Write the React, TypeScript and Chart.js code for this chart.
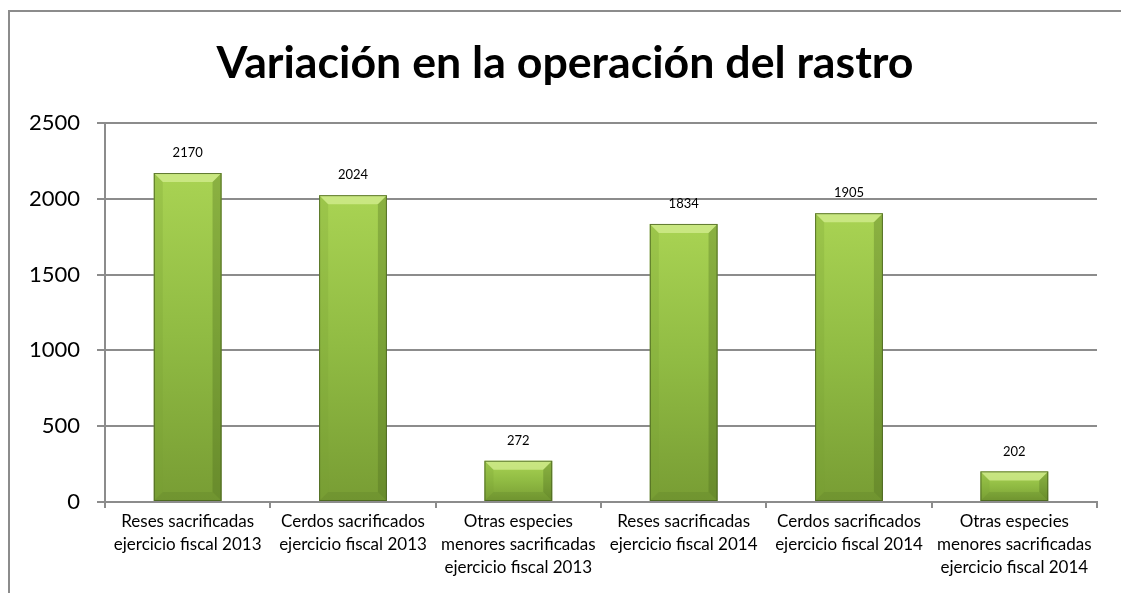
import React, { useEffect, useRef } from "react";
import { Chart, registerables } from "chart.js";

Chart.register(...registerables);

const TITLE = "Variación en la operación del rastro";
const CATEGORIES: string[][] = [
  ["Reses sacrificadas", "ejercicio fiscal 2013"],
  ["Cerdos sacrificados", "ejercicio fiscal 2013"],
  ["Otras especies", "menores sacrificadas", "ejercicio fiscal 2013"],
  ["Reses sacrificadas", "ejercicio fiscal 2014"],
  ["Cerdos sacrificados", "ejercicio fiscal 2014"],
  ["Otras especies", "menores sacrificadas", "ejercicio fiscal 2014"],
];
const VALUES: number[] = [2170, 2024, 272, 1834, 1905, 202];
const Y_MIN = 0;
const Y_MAX = 2500;
const Y_STEP = 500;

const FONT = "Lato, 'Open Sans', 'Liberation Sans', sans-serif";

const titlePlugin = {
  id: "customTitle",
  afterDraw(chart: any) {
    const ctx = chart.ctx;
    ctx.save();
    ctx.fillStyle = "#000";
    ctx.font = "bold 44.7px " + FONT;
    ctx.textAlign = "center";
    ctx.textBaseline = "alphabetic";
    ctx.fillText(TITLE, 565, 78);
    ctx.restore();
  },
};

const bevelPlugin = {
  id: "bevelBars",
  afterDatasetsDraw(chart: any) {
    const ctx = chart.ctx;
    const meta = chart.getDatasetMeta(0);
    meta.data.forEach((bar: any, i: number) => {
      const { x, y, base, width } = bar.getProps(["x", "y", "base", "width"], true);
      const l = x - width / 2;
      const r = x + width / 2;
      const t = y;
      const b = base;
      const h = b - t;
      const bev = Math.min(9, h / 3);
      ctx.save();
      const g = ctx.createLinearGradient(0, t, 0, b);
      g.addColorStop(0, "#a9d353");
      g.addColorStop(0.5, "#90bb43");
      g.addColorStop(1, "#789d34");
      ctx.fillStyle = g;
      ctx.fillRect(l, t, width, h);
      ctx.beginPath();
      ctx.moveTo(l, t);
      ctx.lineTo(r, t);
      ctx.lineTo(r - bev, t + bev);
      ctx.lineTo(l + bev, t + bev);
      ctx.closePath();
      ctx.fillStyle = "rgba(215,240,150,0.7)";
      ctx.fill();
      ctx.beginPath();
      ctx.moveTo(l, t);
      ctx.lineTo(l + bev, t + bev);
      ctx.lineTo(l + bev, b - bev);
      ctx.lineTo(l, b);
      ctx.closePath();
      ctx.fillStyle = "rgba(120,160,50,0.25)";
      ctx.fill();
      ctx.beginPath();
      ctx.moveTo(r, t);
      ctx.lineTo(r - bev, t + bev);
      ctx.lineTo(r - bev, b - bev);
      ctx.lineTo(r, b);
      ctx.closePath();
      ctx.fillStyle = "rgba(70,100,25,0.3)";
      ctx.fill();
      ctx.beginPath();
      ctx.moveTo(l, b);
      ctx.lineTo(l + bev, b - bev);
      ctx.lineTo(r - bev, b - bev);
      ctx.lineTo(r, b);
      ctx.closePath();
      ctx.fillStyle = "rgba(70,100,25,0.15)";
      ctx.fill();
      ctx.strokeStyle = "rgba(70,95,30,0.8)";
      ctx.lineWidth = 1;
      ctx.strokeRect(l + 0.5, t + 0.5, width - 1, h - 1);
      ctx.fillStyle = "#000";
      ctx.font = "13px " + FONT;
      ctx.textAlign = "center";
      ctx.textBaseline = "middle";
      ctx.fillText(String(VALUES[i]), x, t - 20);
      ctx.restore();
    });
  },
};

export default function App() {
  const ref = useRef<HTMLCanvasElement | null>(null);
  useEffect(() => {
    document.body.style.margin = "0";
    document.body.style.overflow = "hidden";
    const chart = new Chart(ref.current!, {
      type: "bar",
      data: {
        labels: CATEGORIES,
        datasets: [
          {
            data: VALUES,
            backgroundColor: "rgba(0,0,0,0)",
            borderWidth: 0,
            barPercentage: 0.41,
            categoryPercentage: 1,
          },
        ],
      },
      options: {
        animation: false,
        responsive: false,
        maintainAspectRatio: false,
        layout: { padding: { left: 10, right: 24, top: 123, bottom: 0 } },
        plugins: {
          legend: { display: false },
          tooltip: { enabled: false },
          title: { display: false },
        },
        scales: {
          x: {
            afterFit: (s: any) => {
              s.height = 91;
            },
            grid: {
              display: true,
              drawOnChartArea: false,
              drawTicks: true,
              tickLength: 6,
              color: "#8c8c8c",
              lineWidth: 2,
            },
            border: { display: true, color: "#8c8c8c", width: 2 },
            ticks: {
              color: "#000",
              font: { family: FONT, size: 17, lineHeight: 1.35 },
              maxRotation: 0,
              autoSkip: false,
              padding: 2,
            },
          },
          y: {
            min: Y_MIN,
            max: Y_MAX,
            afterFit: (s: any) => {
              s.width = 95;
            },
            grid: {
              color: "#8c8c8c",
              lineWidth: 2,
              tickLength: 8,
            },
            border: { display: true, color: "#8c8c8c", width: 2 },
            ticks: {
              stepSize: Y_STEP,
              color: "#000",
              font: { family: FONT, size: 22 },
              padding: 17,
              callback: (v: any) => String(v),
            },
          },
        },
      },
      plugins: [bevelPlugin, titlePlugin],
    });
    return () => chart.destroy();
  }, []);
  return (
    <div style={{ position: "relative", width: 1121, height: 593, overflow: "hidden", background: "#fff" }}>
      <div
        style={{
          position: "absolute",
          left: 8,
          top: 10,
          width: 1200,
          height: 700,
          border: "2px solid #8c8c8c",
          boxSizing: "border-box",
        }}
      />
      <canvas
        ref={ref}
        width={1121}
        height={593}
        style={{ position: "absolute", left: 0, top: 0, width: 1121, height: 593 }}
      />
    </div>
  );
}
